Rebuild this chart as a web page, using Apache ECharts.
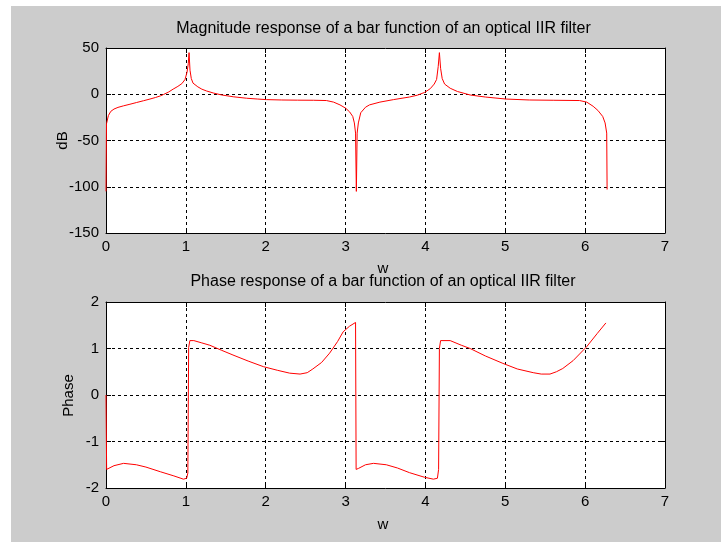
<!DOCTYPE html>
<html>
<head>
<meta charset="utf-8">
<script src="https://cdn.jsdelivr.net/npm/echarts@6/dist/echarts.min.js"></script>
<style>
html,body{margin:0;padding:0;background:#ffffff;width:721px;height:542px;overflow:hidden;}
#c{position:absolute;left:11px;top:6px;width:710px;height:536px;}
</style>
</head>
<body>
<div id="c"></div>
<script>
// ---- data ----
const magTitle = 'Magnitude response of a bar function of an optical IIR filter';
const phaseTitle = 'Phase response of a bar function of an optical IIR filter';
const xLabel = 'w';
const magYLabel = 'dB';
const phaseYLabel = 'Phase';

const magW = [0, 0.006, 0.03, 0.06, 0.1, 0.15, 0.22, 0.3, 0.38, 0.47, 0.55, 0.62, 0.68, 0.72, 0.78, 0.84, 0.9, 0.95, 0.99, 1.015, 1.03, 1.04, 1.052, 1.068, 1.09, 1.15, 1.2, 1.26, 1.35, 1.45, 1.6, 1.76, 1.9, 2.01, 2.2, 2.4, 2.6, 2.76, 2.85, 2.93, 3.0, 3.05, 3.09, 3.11, 3.125, 3.135, 3.145, 3.16, 3.19, 3.25, 3.3, 3.43, 3.6, 3.8, 3.9, 3.99, 4.06, 4.11, 4.14, 4.16, 4.175, 4.19, 4.21, 4.24, 4.31, 4.4, 4.56, 4.75, 5.01, 5.3, 5.6, 5.93, 6.02, 6.1, 6.16, 6.22, 6.25, 6.27, 6.275];
const magDb = [-105, -32, -23, -18.5, -16, -14.2, -12.5, -10.8, -9, -7, -5.2, -3.5, -1.8, -0.3, 2.2, 5.5, 8.5, 11.5, 16, 24, 33, 45, 26, 17, 12, 8, 5.5, 3.5, 1.2, -0.8, -2.8, -4.3, -5.2, -5.8, -6.2, -6.4, -6.5, -6.8, -8.5, -11.5, -15, -19, -24, -31, -42, -105, -42, -31, -20, -14, -11.5, -8.5, -5.8, -3, -1, 2, 6, 11, 16, 30, 45, 28, 17, 11, 6.5, 3, -0.8, -3, -5.2, -6.2, -6.5, -6.8, -8.5, -13, -17.5, -24, -31, -42, -103];

const phaseW = [0, 0.008, 0.1, 0.22, 0.38, 0.5, 0.68, 0.85, 0.97, 1.01, 1.025, 1.035, 1.05, 1.1, 1.2, 1.3, 1.45, 1.59, 1.78, 1.97, 2.15, 2.3, 2.43, 2.52, 2.59, 2.7, 2.8, 2.9, 2.97, 3.05, 3.125, 3.132, 3.16, 3.25, 3.35, 3.51, 3.65, 3.8, 3.99, 4.1, 4.15, 4.165, 4.175, 4.19, 4.31, 4.45, 4.56, 4.75, 4.97, 5.15, 5.35, 5.45, 5.56, 5.64, 5.72, 5.85, 6.02, 6.15, 6.26];
const phaseVal = [0, -1.6, -1.52, -1.47, -1.5, -1.55, -1.65, -1.74, -1.81, -1.79, -1.68, 1.02, 1.17, 1.17, 1.12, 1.07, 0.96, 0.86, 0.73, 0.61, 0.53, 0.47, 0.45, 0.48, 0.56, 0.7, 0.9, 1.15, 1.36, 1.48, 1.56, -1.6, -1.58, -1.5, -1.47, -1.5, -1.57, -1.67, -1.77, -1.81, -1.79, -1.6, 1.0, 1.17, 1.17, 1.07, 1.0, 0.84, 0.68, 0.56, 0.48, 0.45, 0.45, 0.5, 0.57, 0.74, 1.04, 1.32, 1.55];

const xTicks = {min: 0, max: 7, interval: 1};
const magTicks = {min: -150, max: 50, interval: 50};
const phaseTicks = {min: -2, max: 2, interval: 1};

// ---- chart ----
const FONT = '"Liberation Sans", Arial, Helvetica, sans-serif';
const chart = echarts.init(document.getElementById('c'), null, {renderer: 'canvas'});

function pairs(xs, ys) { return xs.map((x, i) => [x, ys[i]]); }

function mainX(grid, t) {
  return {
    gridIndex: grid, type: 'value', min: t.min, max: t.max, interval: t.interval,
    axisLine: {show: true, onZero: false, lineStyle: {color: '#000', width: 1}},
    axisTick: {show: true, inside: true, length: 5, lineStyle: {color: '#000'}},
    axisLabel: {color: '#000', fontSize: 15, fontFamily: FONT, margin: 6},
    splitLine: {show: true, lineStyle: {color: '#000', width: 1, type: [3, 3]}}
  };
}
function boxX(grid, t) {
  return {
    gridIndex: grid, type: 'value', position: 'top', min: t.min, max: t.max, interval: t.interval,
    axisLine: {show: true, onZero: false, lineStyle: {color: '#000', width: 1}},
    axisTick: {show: true, inside: true, length: 5, lineStyle: {color: '#000'}},
    axisLabel: {show: false}, splitLine: {show: false}
  };
}
function mainY(grid, t) {
  return {
    gridIndex: grid, type: 'value', min: t.min, max: t.max, interval: t.interval,
    axisLine: {show: true, onZero: false, lineStyle: {color: '#000', width: 1}},
    axisTick: {show: true, inside: true, length: 5, lineStyle: {color: '#000'}},
    axisLabel: {color: '#000', fontSize: 15, fontFamily: FONT, margin: 7},
    splitLine: {show: true, lineStyle: {color: '#000', width: 1, type: [3, 3]}}
  };
}
function boxY(grid, t) {
  return {
    gridIndex: grid, type: 'value', position: 'right', min: t.min, max: t.max, interval: t.interval,
    axisLine: {show: true, onZero: false, lineStyle: {color: '#000', width: 1}},
    axisTick: {show: true, inside: true, length: 5, lineStyle: {color: '#000'}},
    axisLabel: {show: false}, splitLine: {show: false}
  };
}
function txt(x, y, s, rot) {
  return {type: 'text', x: x, y: y, rotation: rot || 0, silent: true,
    style: {text: s, fill: '#000', font: '15px ' + FONT, textAlign: 'center', textVerticalAlign: 'middle'}};
}

chart.setOption({
  backgroundColor: '#cccccc',
  animation: false,
  grid: [
    {left: 95, top: 42, width: 559, height: 185, show: true, backgroundColor: '#ffffff', borderWidth: 0},
    {left: 95, top: 296, width: 559, height: 186, show: true, backgroundColor: '#ffffff', borderWidth: 0}
  ],
  xAxis: [mainX(0, xTicks), boxX(0, xTicks), mainX(1, xTicks), boxX(1, xTicks)],
  yAxis: [mainY(0, magTicks), boxY(0, magTicks), mainY(1, phaseTicks), boxY(1, phaseTicks)],
  series: [
    {type: 'line', xAxisIndex: 0, yAxisIndex: 0, data: pairs(magW, magDb), showSymbol: false,
     lineStyle: {color: '#ff0000', width: 1}, itemStyle: {color: '#ff0000'}},
    {type: 'line', xAxisIndex: 2, yAxisIndex: 2, data: pairs(phaseW, phaseVal), showSymbol: false,
     lineStyle: {color: '#ff0000', width: 1}, itemStyle: {color: '#ff0000'}}
  ],
  graphic: [
    {type: 'text', x: 372.5, y: 23, silent: true, style: {text: magTitle, fill: '#000', font: '16px ' + FONT, textAlign: 'center', textVerticalAlign: 'middle'}},
    {type: 'text', x: 372, y: 276, silent: true, style: {text: phaseTitle, fill: '#000', font: '16px ' + FONT, textAlign: 'center', textVerticalAlign: 'middle'}},
    txt(372, 263, xLabel),
    txt(372, 519, xLabel),
    txt(52, 134.5, magYLabel, Math.PI / 2),
    txt(58, 389.5, phaseYLabel, Math.PI / 2)
  ]
});
</script>
</body>
</html>
